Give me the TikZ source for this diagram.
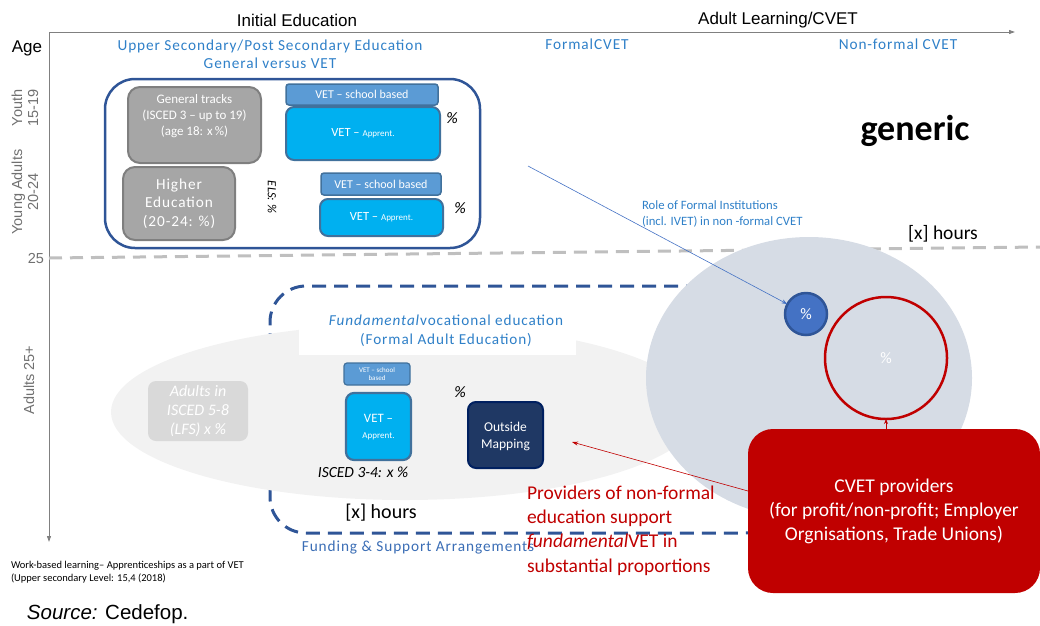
\documentclass[tikz,border=0pt]{standalone}
\usepackage{fontspec}
\setmainfont{Carlito}
\newfontfamily\arialf{Liberation Sans}
\newfontfamily\spacedf[LetterSpace=6]{Carlito}
\usetikzlibrary{arrows.meta}
\definecolor{axisgray}{HTML}{808080}
\definecolor{labgray}{HTML}{707070}
\definecolor{txtblue}{HTML}{2F80C8}
\definecolor{fundblue}{HTML}{3A6DB5}
\definecolor{darkblue}{HTML}{2F5597}
\definecolor{boxgray}{HTML}{A6A6A6}
\definecolor{boxgrayb}{HTML}{7F7F7F}
\definecolor{schoolblue}{HTML}{5B9BD5}
\definecolor{schoolbord}{HTML}{41719C}
\definecolor{cyanbox}{HTML}{00B0F0}
\definecolor{navy}{HTML}{1F3864}
\definecolor{navyb}{HTML}{002060}
\definecolor{ellgray}{HTML}{F2F2F2}
\definecolor{lfsgray}{HTML}{D9D9D9}
\definecolor{circgray}{HTML}{D6DCE5}
\definecolor{midblue}{HTML}{4472C4}
\definecolor{cvetred}{HTML}{C00000}
\definecolor{dashgray}{HTML}{BFBFBF}
\begin{document}
\begin{tikzpicture}[x=1pt,y=-1pt,
  every node/.style={inner sep=0pt, outer sep=0pt},
  axislabel/.style={font=\arialf\fontsize{17}{20}\selectfont, text=black},
  agelabel/.style={font=\arialf\fontsize{14.5}{16}\selectfont, text=labgray, align=center},
  bluehead/.style={font=\spacedf\fontsize{15.3}{18}\selectfont, text=txtblue, align=center},
  graybox/.style={draw=boxgrayb, fill=boxgray, line width=2pt, rounded corners=12pt, text=white, align=center},
  schoolbox/.style={draw=schoolbord, fill=schoolblue, line width=1.5pt, rounded corners=3pt, text=white, align=center},
  apprbox/.style={draw=schoolbord, fill=cyanbox, line width=2pt, rounded corners=8pt, text=white, align=center},
  pct/.style={font=\itshape\fontsize{16}{18}\selectfont, text=black},
  thinarrow/.style={-{Stealth[length=6pt,width=4pt]}, line width=0.6pt}
]
\useasboundingbox (0,0) rectangle (1040,625);

% axes
\coordinate (origin) at (49,32);
\coordinate (xend) at (1015,32);
\coordinate (yend) at (49,542);
\draw[axisgray, line width=1pt, -{Triangle[length=6pt,width=4pt]}] (origin) -- (xend);
\draw[axisgray, line width=1pt, -{Triangle[length=6pt,width=4pt]}] (origin) -- (yend);
\node[axislabel] (initedu) at (297,20) {Initial Education};
\node[axislabel] (adultl) at (778,20) {Adult Learning/CVET};
\node[axislabel] (age) at (27,48) {Age};

% age labels
\node[agelabel, rotate=90] (youth) at (25,108) {Youth\\15-19};
\node[agelabel, rotate=90] (young) at (25,192) {Young Adults\\20-24};
\node[agelabel] (twentyfive) at (36,258) {25};
\node[agelabel, rotate=90] (adults) at (29,380) {Adults 25+};

% dashed age line
\coordinate (dl1) at (49,258);
\coordinate (dl2) at (1040,247);
\draw[dashgray, line width=3pt, dash pattern=on 13pt off 8pt] (dl1) -- (dl2);

% column headings
\node[bluehead] (upsec) at (270,54) {Upper Secondary/Post Secondary Education\\General versus VET};
\node[bluehead] (formal) at (587,44) {FormalCVET};
\node[bluehead] (nonformal) at (898,44) {Non-formal CVET};

% upper block
\node[draw=darkblue, line width=2.5pt, rounded corners=30pt, minimum width=375pt, minimum height=169pt] (bigbox) at (292.5,163.5) {};
\node[graybox, minimum width=133pt, minimum height=76pt] (gen) at (194.5,125) {};
\node[text=white, align=center, font=\fontsize{13}{16}\selectfont] (gentxt) at (194.5,116.5) {General tracks\\(ISCED 3 – up to 19)\\(age 18: x\,\%)};
\node[graybox, minimum width=112pt, minimum height=73pt, font=\spacedf\fontsize{15.3}{18.5}\selectfont] (higher) at (179,203.5) {Higher\\Education\\(20-24: \%)};
\node[schoolbox, minimum width=152pt, minimum height=21pt, font=\fontsize{12}{13}\selectfont] (vs1) at (362,94.5) {VET – school based};
\node[apprbox, minimum width=154pt, minimum height=53pt, font=\fontsize{12.5}{14}\selectfont] (va1) at (363,133.5) {VET – {\fontsize{9}{10}\selectfont Apprent.}};
\node[pct] (p1) at (452,118) {\%};
\node[schoolbox, minimum width=120pt, minimum height=22pt, font=\fontsize{12}{13}\selectfont] (vs2) at (381,184) {VET – school based};
\node[apprbox, minimum width=123pt, minimum height=37pt, font=\fontsize{12.5}{14}\selectfont] (va2) at (381.5,217.5) {VET – {\fontsize{9}{10}\selectfont Apprent.}};
\node[pct] (p2) at (460,208) {\%};
\node[rotate=-90, font=\itshape\fontsize{12.5}{14}\selectfont] (els) at (272,197) {ELS: \%};

% generic and role
\node[font=\bfseries\fontsize{36}{40}\selectfont] (generic) at (915,131) {generic};
\node[anchor=west, align=left, text=txtblue, font=\fontsize{12.7}{16}\selectfont] (role) at (642,214) {Role of Formal Institutions\\(incl. IVET) in non -formal CVET};
\node[font=\fontsize{19.5}{22}\selectfont] (hours2) at (943,234) {[x] hours};

% lower block
\node[draw=darkblue, line width=3pt, dash pattern=on 14pt off 8pt, rounded corners=36pt, minimum width=510pt, minimum height=247pt] (fundrect) at (525,409.5) {};
\fill[ellgray] (405,412) ellipse [x radius=294, y radius=88];
\node[fill=white, minimum width=277pt, minimum height=52pt] (whitelab) at (437.5,329) {};
\node[font=\spacedf\fontsize{15.2}{19}\selectfont, text=txtblue, align=center] (fundtxt) at (446,331) {\textit{Fundamental}vocational education\\(Formal Adult Education)};
\node[fill=lfsgray, rounded corners=8pt, minimum width=100pt, minimum height=60pt, text=white, align=center, font=\itshape\fontsize{16}{19}\selectfont] (lfs) at (198,411) {Adults in\\ISCED 5-8\\(LFS) x \%};
\node[schoolbox, line width=1.2pt, minimum width=66pt, minimum height=22pt, font=\fontsize{7}{8}\selectfont] (vs3) at (377,374) {VET – school\\based};
\node[apprbox, line width=2.2pt, minimum width=65pt, minimum height=67pt] (va3) at (378.5,426.5) {};
\node[text=white, align=center, font=\fontsize{12.8}{16}\selectfont] (va3txt) at (378.5,427.5) {VET –\\{\fontsize{9}{10}\selectfont Apprent.}};
\node[font=\itshape\fontsize{15.5}{17}\selectfont] (isced34) at (363,472) {ISCED 3-4: x \%};
\node[pct] (p3) at (460,392) {\%};
\node[draw=navyb, fill=navy, line width=2pt, rounded corners=8pt, minimum width=75pt, minimum height=66pt] (outside) at (505.5,435) {};
\node[text=white, align=center, font=\fontsize{13.5}{16.5}\selectfont] (outsidetxt) at (505.5,436.5) {Outside\\Mapping};
\node[font=\fontsize{20}{22}\selectfont] (hours1) at (381,513) {[x] hours};
\node[font=\spacedf\fontsize{15.3}{17}\selectfont, text=fundblue] (funding) at (418,547) {Funding \& Support Arrangements};

% right side circles
\fill[circgray] (809,378) ellipse [x radius=163, y radius=141];
\node[circle, draw=darkblue, fill=midblue, line width=2.5pt, minimum size=42pt, text=white, font=\fontsize{16}{18}\selectfont] (smallc) at (806,314) {\%};
\node[circle, draw=cvetred, line width=2.5pt, minimum size=122pt, text=white, font=\fontsize{16}{18}\selectfont] (redc) at (886,358) {\%};

% CVET providers
\node[fill=cvetred, rounded corners=25pt, minimum width=292pt, minimum height=164pt, text=white, align=center, font=\fontsize{19.5}{24}\selectfont] (cvet) at (894,511) {CVET providers\\(for profit/non-profit; Employer\\Orgnisations, Trade Unions)};
\draw[cvetred, line width=0.8pt, -{Stealth[length=5pt,width=4pt]}] (cvet.north -| redc.south) -- (redc.south);

% red text
\node[anchor=west, align=left, text=cvetred, font=\fontsize{19.5}{24.3}\selectfont] (provtxt) at (527,530.5) {Providers of non-formal\\education support\\\textit{fundamental}VET in\\substantial proportions};

% arrows
\coordinate (bluestart) at (528,166);
\draw[thinarrow, midblue] (bluestart) -- (smallc);
\coordinate (redend) at (572,442);
\coordinate (redstart) at (748,491);
\draw[thinarrow, cvetred] (redstart) -- (redend);

% footnotes
\node[anchor=west, align=left, font=\fontsize{10.5}{12.5}\selectfont] (wbl) at (11,572) {Work-based learning– Apprenticeships as a part of VET\\(Upper secondary Level: 15,4 (2018)};
\node[anchor=west, font=\arialf\fontsize{20.5}{22}\selectfont] (source) at (27,614) {\textit{Source:} Cedefop.};
\end{tikzpicture}
\end{document}
